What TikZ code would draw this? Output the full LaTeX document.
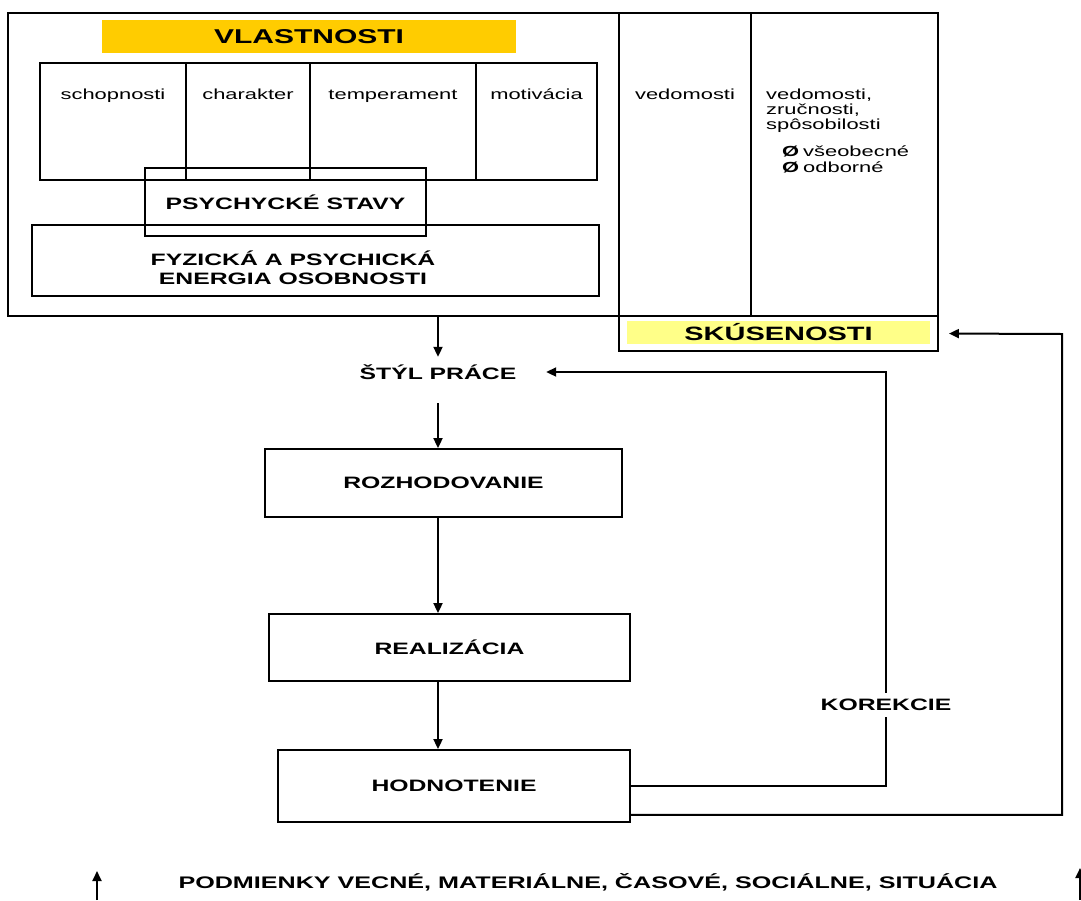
\documentclass[tikz,border=0pt]{standalone}
\usepackage{fontspec}
\setmainfont{Liberation Sans}[FakeStretch=1.5]
\usetikzlibrary{arrows.meta}
\definecolor{vlastyellow}{HTML}{FFCC00}
\definecolor{skuyellow}{HTML}{FFFF88}

\begin{document}
\begin{tikzpicture}[x=1pt,y=-1pt,
  box/.style={draw,line width=1.9pt,inner sep=0pt},
  big/.style={font=\bfseries\fontsize{16.5}{19}\selectfont},
  small/.style={font=\fontsize{14.6}{15}\selectfont},
  >={Triangle[length=10pt,width=9pt]}]
\useasboundingbox (0,0) rectangle (1081,900);

% vlastnosti
\node[box,minimum width=611pt,minimum height=303pt] (vlast) at (313.5,164.5) {};
\node[fill=vlastyellow,minimum width=414pt,minimum height=33pt,font=\bfseries\fontsize{20}{22}\selectfont] (vlastlbl) at (309,36.5) {VLASTNOSTI};
\node[box,minimum width=146pt,minimum height=117pt] (sch) at (113,121.5) {};
\node[box,minimum width=124pt,minimum height=117pt] (cha) at (248,121.5) {};
\node[box,minimum width=166pt,minimum height=117pt] (tem) at (393,121.5) {};
\node[box,minimum width=121pt,minimum height=117pt] (mot) at (536.5,121.5) {};
\node[small,anchor=base] (schtxt) at ([yshift=-37pt]sch.north) {schopnosti};
\node[small,anchor=base] (chatxt) at ([yshift=-37pt]cha.north) {charakter};
\node[small,anchor=base] (temtxt) at ([yshift=-37pt]tem.north) {temperament};
\node[small,anchor=base] (mottxt) at ([yshift=-37pt]mot.north) {motivácia};
\node[box,big,minimum width=281pt,minimum height=68pt] (psych) at (285.5,202) {PSYCHYCKÉ STAVY};
\node[box,minimum width=567pt,minimum height=71pt] (fyz) at (315.5,260.5) {};
\node[big,align=center] (fyztxt) at (293,268) {FYZICKÁ A PSYCHICKÁ\\ENERGIA OSOBNOSTI};

% skusenosti
\node[box,minimum width=132pt,minimum height=303pt] (ved) at (685,164.5) {};
\node[box,minimum width=187pt,minimum height=303pt] (zrc) at (844.5,164.5) {};
\node[box,minimum width=319pt,minimum height=35pt] (sku) at (778.5,333.5) {};
\node[fill=skuyellow,minimum width=303pt,minimum height=23pt,font=\bfseries\fontsize{19.3}{21}\selectfont] (skulbl) at (778.5,332.5) {SKÚSENOSTI};
\node[small,anchor=base] (vedtxt) at ([yshift=-87pt]ved.north) {vedomosti};
\node[small,anchor=north west,align=left,inner sep=0pt] (zrctxt) at (766,89) {vedomosti,\\zručnosti,\\spôsobilosti};
\node[small,anchor=north west,align=left,inner sep=0pt,font=\fontsize{14.6}{16}\selectfont] (druhy) at (782,146) {{\bfseries Ø}\hspace{4pt}všeobecné\\{\bfseries Ø}\hspace{4pt}odborné};

% postup
\node[big,minimum width=216pt,minimum height=30pt,inner sep=0pt] (styl) at (438,372) {ŠTÝL PRÁCE};
\node[box,big,minimum width=357pt,minimum height=68pt] (roz) at (443.5,483) {ROZHODOVANIE};
\node[box,big,minimum width=361pt,minimum height=67pt] (real) at (449.5,647.5) {REALIZÁCIA};
\node[box,big,minimum width=352pt,minimum height=72pt] (hod) at (454,786) {HODNOTENIE};
\node[big,fill=white,inner sep=6pt] (kor) at (886,705) {KOREKCIE};
\coordinate (roh) at (1062,334);

\draw[line width=2pt,->] (vlast.south -| styl.north) -- (styl.north);
\draw[line width=2pt,->,shorten <=16pt] (styl.south) -- (styl.south |- roz.north);
\draw[line width=2pt,->] (styl.south |- roz.south) -- (styl.south |- real.north);
\draw[line width=2pt,->] (styl.south |- real.south) -- (styl.south |- hod.north);

% korekcie
\draw[line width=2pt] (hod.east) -| (kor.south);
\draw[line width=2pt,->] (kor.north) |- (styl.east);
\draw[line width=2pt,->,shorten >=10pt] ([yshift=8pt]hod.south east) -| (roh) -- (sku.east);

% podmienky
\node[big,font=\bfseries\fontsize{16.75}{19}\selectfont] (podm) at (588,882) {PODMIENKY VECNÉ, MATERIÁLNE, ČASOVÉ, SOCIÁLNE, SITUÁCIA};
\coordinate (lb) at (97,900);
\coordinate (lt) at (97,871);
\coordinate (rb) at (1080,900);
\coordinate (rt) at (1080,868);
\draw[line width=2pt,->] (lb) -- (lt);
\draw[line width=2pt,->] (rb) -- (rt);

\end{tikzpicture}
\end{document}
